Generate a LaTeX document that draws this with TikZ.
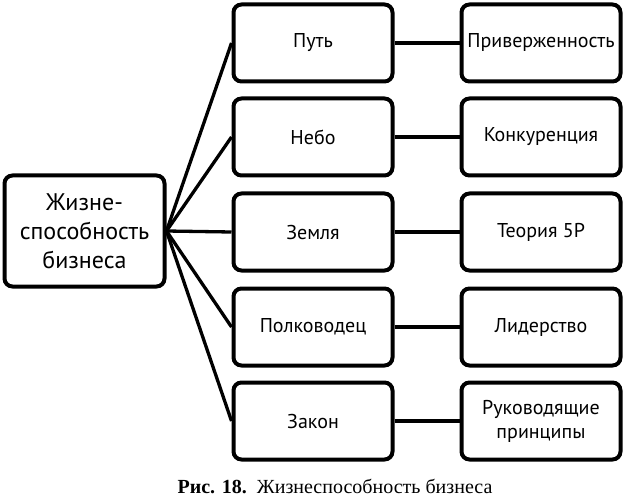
\documentclass[tikz,border=0pt]{standalone}
\usepackage{fontspec}
\setmainfont{Liberation Serif}
\newfontfamily\boxfont{PT Sans}
\usetikzlibrary{positioning}

\begin{document}
\begin{tikzpicture}[x=1pt,y=-1pt,
  every node/.style={inner sep=2pt},
  box/.style={draw=black,fill=white,line width=4pt,rounded corners=8pt,minimum width=159pt,minimum height=77pt,align=center,font=\boxfont\fontsize{20}{24}\selectfont},
  root/.style={box,minimum width=160pt,minimum height=111pt,font=\boxfont\fontsize{24}{29}\selectfont},
  link/.style={line width=3.3pt,color=black},
]
\useasboundingbox (0,0) rectangle (626,497);

% root
\node[root] (ZHIZ) at (84.5,231) {Жизне-\\способность\\бизнеса};

% middle column
\node[box] (PUT)   at (313,43)  {Путь};
\node[box] (NEBO)  at (313,137) {Небо};
\node[box] (ZEML)  at (313,232) {Земля};
\node[box] (POLK)  at (313,327) {Полководец};
\node[box] (ZAKON) at (313,421) {Закон};

% right column
\node[box] (PRIV)  at (541,43)  {Приверженность};
\node[box] (KONK)  at (541,137) {Конкуренция};
\node[box] (TEOR)  at (541,232) {Теория 5P};
\node[box] (LID)   at (541,327) {Лидерство};
\node[box] (RUK)   at (541,421) {Руководящие\\принципы};

% root to middle
\draw[link] (ZHIZ.east) -- (PUT.west);
\draw[link] (ZHIZ.east) -- (NEBO.west);
\draw[link] (ZHIZ.east) -- (ZEML.west);
\draw[link] (ZHIZ.east) -- (POLK.west);
\draw[link] (ZHIZ.east) -- (ZAKON.west);

% middle to right
\draw[link] (PUT)   -- (PRIV);
\draw[link] (NEBO)  -- (KONK);
\draw[link] (ZEML)  -- (TEOR);
\draw[link] (POLK)  -- (LID);
\draw[link] (ZAKON) -- (RUK);

% caption
\node[font=\fontsize{20}{23}\selectfont,inner sep=0pt] (CAP) at (335,486)
  {\textbf{Рис. 18.}\enspace Жизнеспособность бизнеса};
\end{tikzpicture}
\end{document}
